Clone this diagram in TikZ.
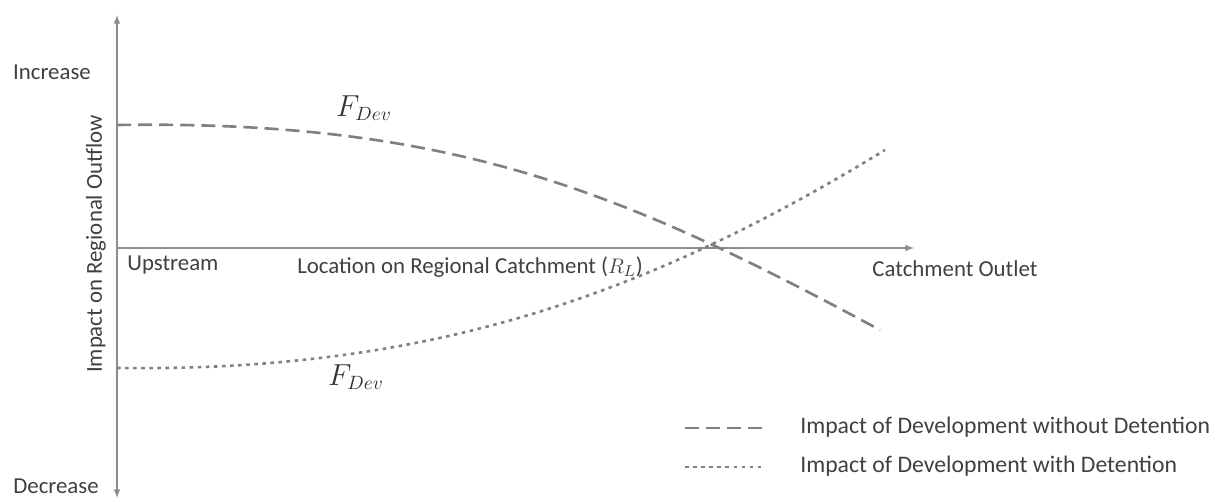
\documentclass[tikz,border=0pt]{standalone}
\usepackage{amssymb,amsmath}
\usepackage{fontspec}
\setmainfont{Carlito}
\usetikzlibrary{arrows}

\begin{document}
\begin{tikzpicture}[x=0.02cm, y=-0.02cm,
        lbl/.style={text=black!75, font=\fontsize{13}{15}\selectfont, inner sep=0pt},
        leglbl/.style={text=black!75, font=\fontsize{13.5}{15}\selectfont, inner sep=0pt, anchor=west},
        flbl/.style={text=black!80, font=\fontsize{16}{18}\selectfont, inner sep=0pt},
        axis/.style={draw=black!45, line width=0.7pt},
        nodet/.style={draw=black!50, line width=1.5pt, dash pattern=on 8pt off 4pt},
        withdet/.style={draw=black!50, line width=1.5pt, dash pattern=on 2pt off 2.6pt},
        >=latex]
      \useasboundingbox (0,0) rectangle (1220,502);
      \coordinate (O) at (117,248);
      \coordinate (T) at (117,15);
      \coordinate (B) at (117,498);
      \coordinate (R) at (914,248);
      \node (inc) at (52,72) [lbl] {Increase};
      \node (dec) at (56,486) [lbl] {Decrease};
      \node (ylab) at (96,244) [lbl, rotate=90] {Impact on Regional Outflow};
      \node (up) at (127,265) [lbl, anchor=west] {Upstream};
      \node (loc) at (297,267) [lbl, anchor=west] {Location on Regional Catchment ($R_L$)};
      \node (out) at (955,269) [lbl] {Catchment Outlet};
      \draw[axis, ->] (O) -- (T);
      \draw[axis, ->] (O) -- (B);
      \draw[axis, ->] (O) -- (R);
      % curves
      \coordinate (d0) at (117,125);
      \coordinate (d1) at (880,330);
      \coordinate (w0) at (117,368);
      \coordinate (w1) at (885,150);
      \draw[nodet] (d0) .. controls (450,120) and (620,190) .. (d1);
      \draw[withdet] (w0) .. controls (420,372) and (640,300) .. (w1);
      \node (fa) at (364,108) [flbl] {$F_{Dev}$};
      \node (fb) at (356,377) [flbl] {$F_{Dev}$};
      % legend
      \coordinate (la) at (685,428);
      \coordinate (lb) at (765,428);
      \coordinate (lc) at (685,467);
      \coordinate (ld) at (765,467);
      \draw[nodet] (la) -- (lb);
      \draw[withdet] (lc) -- (ld);
      \node (ta) at (800,427) [leglbl] {Impact of Development without Detention};
      \node (tb) at (800,466) [leglbl] {Impact of Development with Detention};
\end{tikzpicture}
\end{document}
